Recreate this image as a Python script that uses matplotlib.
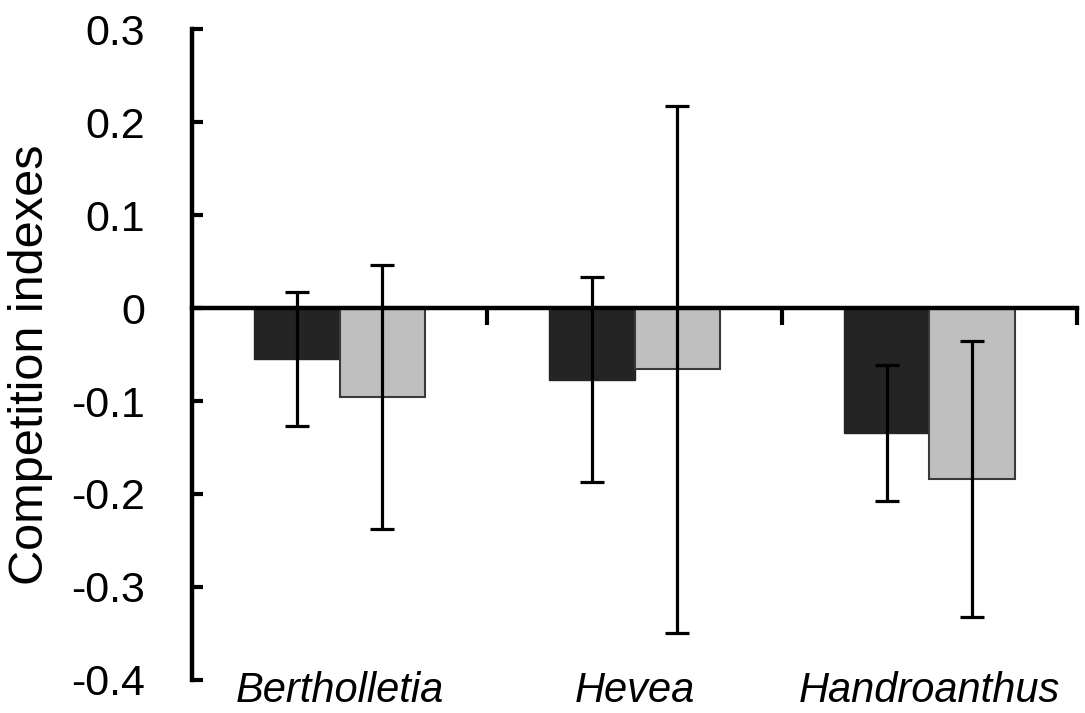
import matplotlib
matplotlib.use('Agg')
import matplotlib.pyplot as plt
import numpy as np

plt.rcParams['font.family'] = ['Liberation Sans', 'DejaVu Sans']

species = ['Bertholletia', 'Hevea', 'Handroanthus']
dark_vals = [-0.055, -0.077, -0.134]
dark_err = [0.072, 0.110, 0.073]
light_vals = [-0.096, -0.066, -0.184]
light_err = [0.142, 0.283, 0.148]
yticks = [-0.4, -0.3, -0.2, -0.1, 0.0, 0.1, 0.2, 0.3]

fig = plt.figure(figsize=(10.85, 7.13), dpi=100)
ax = fig.add_axes([0.177, 0.0463, 0.8156, 0.913])

centers = np.arange(len(species)) + 0.5
w = 0.29

# bars
ax.bar(centers - w / 2, dark_vals, w, color='#242424', edgecolor='#242424',
       linewidth=1.0, zorder=2)
ax.bar(centers + w / 2, light_vals, w, color='#bfbfbf', edgecolor='#3a3a3a',
       linewidth=1.5, zorder=2)

# error bars
ax.errorbar(centers - w / 2, dark_vals, yerr=dark_err, fmt='none', ecolor='black',
            elinewidth=2.3, capsize=8.3, capthick=2.3, zorder=4)
ax.errorbar(centers + w / 2, light_vals, yerr=light_err, fmt='none', ecolor='black',
            elinewidth=2.3, capsize=8.3, capthick=2.3, zorder=4)

ax.set_xlim(0, 3)
ax.set_ylim(-0.4, 0.3)

ax.spines['top'].set_visible(False)
ax.spines['right'].set_visible(False)
ax.spines['bottom'].set_position(('data', 0))
ax.spines['left'].set_linewidth(3.2)
ax.spines['bottom'].set_linewidth(3.2)
ax.spines['bottom'].set_zorder(3)

ax.set_yticks(yticks)
ax.set_yticklabels(['0' if v == 0 else '%.1f' % v for v in yticks])
ax.tick_params(axis='y', direction='in', length=8, width=3, labelsize=31, pad=34)

ax.set_xticks([1, 2, 3])
ax.set_xticklabels([])
ax.tick_params(axis='x', direction='out', length=12, width=3)

ax.set_ylabel('Competition indexes', fontsize=35)
ax.yaxis.set_label_coords(-0.157, 0.485)

for c, name in zip(centers, species):
    ax.text(c, -0.412, name, ha='center', va='center', fontsize=30,
            style='italic', clip_on=False)

plt.savefig('out.png', dpi=100)
plt.close()
